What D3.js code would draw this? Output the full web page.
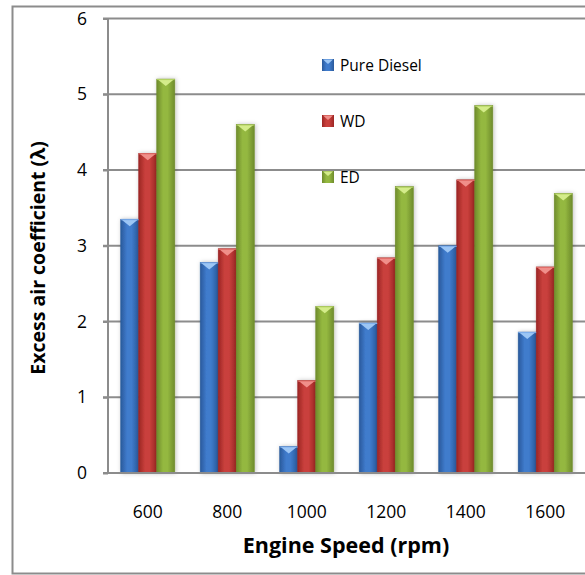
<!DOCTYPE html>
<html>
<head>
<meta charset="utf-8">
<script src="https://cdn.jsdelivr.net/npm/d3@7"></script>
<style>
  body { margin: 0; background: #fff; }
  svg { display: block; font-family: "Open Sans", Lato, sans-serif; }
</style>
</head>
<body>
<div id="chart"></div>
<script>
const speeds = ['600', '800', '1000', '1200', '1400', '1600']
const seriesNames = ['Pure Diesel', 'WD', 'ED']
const pureDiesel = [3.35, 2.78, 0.35, 1.98, 3.0, 1.86]
const wd = [4.22, 2.96, 1.22, 2.84, 3.87, 2.72]
const ed = [5.2, 4.6, 2.2, 3.78, 4.85, 3.69]
const yTicks = [0, 1, 2, 3, 4, 5, 6]

const seriesValues = [pureDiesel, wd, ed]
const colors = [
  { dark: '#2a5a9c', mid: '#3f7bcc', light: '#7fb0ee', cap: '#9cc6f5' },
  { dark: '#9c2624', mid: '#c9403c', light: '#e26e69', cap: '#f08f8a' },
  { dark: '#6f8c2c', mid: '#94b840', light: '#b4d463', cap: '#d4ec8a' }
]

const width = 585
const height = 575
const plot = { left: 108, right: 585, top: 18.5, bottom: 473 }

const svg = d3.select('#chart').append('svg')
  .attr('width', width)
  .attr('height', height)

const defs = svg.append('defs')
colors.forEach((c, i) => {
  const g = defs.append('linearGradient')
    .attr('id', 'grad' + i)
    .attr('x1', 0).attr('x2', 1).attr('y1', 0).attr('y2', 0)
  g.append('stop').attr('offset', '0%').attr('stop-color', c.dark)
  g.append('stop').attr('offset', '35%').attr('stop-color', c.mid)
  g.append('stop').attr('offset', '60%').attr('stop-color', c.mid)
  g.append('stop').attr('offset', '100%').attr('stop-color', c.dark)
})
defs.append('filter').attr('id', 'shadow')
  .attr('x', '-40%').attr('y', '-10%').attr('width', '180%').attr('height', '120%')
  .append('feDropShadow')
  .attr('dx', 1).attr('dy', 0).attr('stdDeviation', 2)
  .attr('flood-color', '#000').attr('flood-opacity', 0.25)

// outer border
svg.append('rect')
  .attr('x', 12.5).attr('y', 6.5)
  .attr('width', 600).attr('height', 567)
  .attr('fill', 'none')
  .attr('stroke', '#8c8c8c')
  .attr('stroke-width', 2)

const x = d3.scaleBand()
  .domain(speeds)
  .range([plot.left, plot.right])
  .paddingInner(0.32)
  .paddingOuter(0.16)

const xs = d3.scaleBand()
  .domain(seriesNames)
  .range([0, x.bandwidth()])

const y = d3.scaleLinear()
  .domain([0, 6])
  .range([plot.bottom, plot.top])

// gridlines
svg.append('g')
  .selectAll('line')
  .data(yTicks.filter(d => d > 0))
  .join('line')
  .attr('x1', plot.left - 5)
  .attr('x2', plot.right)
  .attr('y1', d => y(d))
  .attr('y2', d => y(d))
  .attr('stroke', '#8c8c8c')
  .attr('stroke-width', 2)

// y axis
const yAxis = d3.axisLeft(y).tickValues(yTicks).tickSize(5).tickFormat(d3.format('d'))
const ya = svg.append('g')
  .attr('transform', `translate(${plot.left},0)`)
  .call(yAxis)
ya.select('.domain').remove()
ya.selectAll('.tick line').attr('stroke', '#8c8c8c').attr('stroke-width', 2)
ya.selectAll('.tick text')
  .attr('x', -21)
  .attr('font-size', 17.5)
  .attr('font-family', '"Open Sans", sans-serif')
  .attr('fill', '#000')

// bars
seriesNames.forEach((name, si) => {
  const g = svg.append('g').attr('filter', 'url(#shadow)')
  const vals = seriesValues[si]
  g.selectAll('rect')
    .data(speeds)
    .join('rect')
    .attr('x', (d) => x(d) + xs(name))
    .attr('y', (d, i) => y(vals[i]))
    .attr('width', xs.bandwidth())
    .attr('height', (d, i) => y(0) - y(vals[i]))
    .attr('fill', `url(#grad${si})`)
    .attr('stroke', colors[si].dark)
    .attr('stroke-width', 0.6)
})

// bar caps
seriesNames.forEach((name, si) => {
  const vals = seriesValues[si]
  const bw = xs.bandwidth()
  svg.append('g')
    .selectAll('path')
    .data(speeds)
    .join('path')
    .attr('d', (d, i) => {
      const x0 = x(d) + xs(name)
      const y0 = y(vals[i])
      return `M${x0 + 1},${y0 + 0.5} L${x0 + bw - 1},${y0 + 0.5} L${x0 + bw / 2},${y0 + 7} Z`
    })
    .attr('fill', colors[si].cap)
  svg.append('g')
    .selectAll('line')
    .data(speeds)
    .join('line')
    .attr('x1', d => x(d) + xs(name))
    .attr('x2', d => x(d) + xs(name) + bw)
    .attr('y1', (d, i) => y(vals[i]) + 0.5)
    .attr('y2', (d, i) => y(vals[i]) + 0.5)
    .attr('stroke', colors[si].light)
    .attr('stroke-width', 1)
})

// axis lines
svg.append('line')
  .attr('x1', plot.left).attr('x2', plot.left)
  .attr('y1', plot.top).attr('y2', plot.bottom + 1)
  .attr('stroke', '#8c8c8c').attr('stroke-width', 2)
svg.append('line')
  .attr('x1', plot.left - 5).attr('x2', plot.right)
  .attr('y1', plot.bottom).attr('y2', plot.bottom)
  .attr('stroke', '#8c8c8c').attr('stroke-width', 2)

// x tick labels
const xAxis = d3.axisBottom(x).tickSize(0).tickPadding(0)
const xa = svg.append('g')
  .attr('transform', `translate(0,${plot.bottom})`)
  .call(xAxis)
xa.select('.domain').remove()
xa.selectAll('.tick text')
  .attr('y', 45)
  .attr('dy', 0)
  .attr('font-size', 17.5)
  .attr('font-family', '"Open Sans", sans-serif')
  .attr('fill', '#000')

// axis titles
svg.append('text')
  .attr('x', 346)
  .attr('y', 553)
  .attr('text-anchor', 'middle')
  .attr('font-size', 21.5)
  .attr('font-weight', 'bold')
  .text('Engine Speed (rpm)')

svg.append('text')
  .attr('transform', 'translate(45,258) rotate(-90)')
  .attr('text-anchor', 'middle')
  .attr('font-size', 19.5)
  .attr('font-weight', 'bold')
  .text('Excess air coefficient (λ)')

// legend
const legendY = [59, 115, 171]
const legend = svg.append('g')
seriesNames.forEach((name, i) => {
  const lg = legend.append('g').attr('transform', `translate(322,${legendY[i]})`)
  lg.append('rect')
    .attr('width', 12).attr('height', 12)
    .attr('fill', `url(#grad${i})`)
  lg.append('path')
    .attr('d', 'M1,0.5 L11,0.5 L6,5 Z')
    .attr('fill', colors[i].cap)
  lg.append('text')
    .attr('x', 18)
    .attr('y', 12)
    .attr('font-size', 15.5)
    .attr('fill', '#000')
    .text(name)
})
</script>
</body>
</html>
